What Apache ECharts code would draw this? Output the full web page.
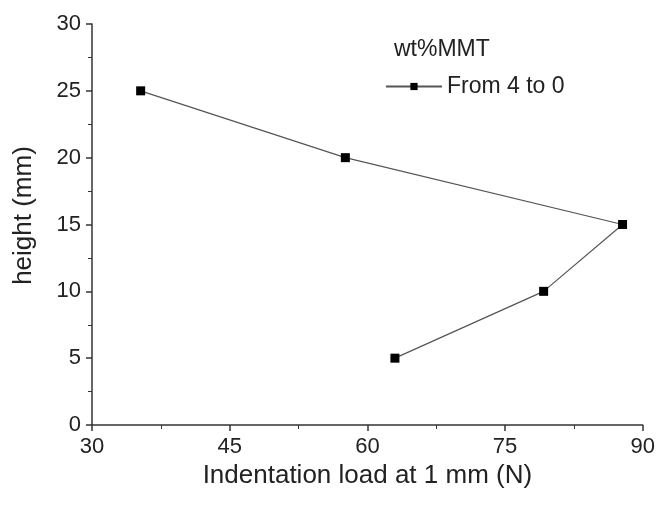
<!DOCTYPE html>
<html>
<head>
<meta charset="utf-8">
<script src="https://cdn.jsdelivr.net/npm/echarts@6/dist/echarts.min.js"></script>
<style>html,body{margin:0;padding:0;background:#fff}#c{width:658px;height:506px}</style>
</head>
<body>
<div id="c"></div>
<script>
var loads = [35.3, 57.6, 87.8, 79.2, 63.0];
var heights = [25, 20, 15, 10, 5];
var seriesName = 'From 4 to 0';
var legendTitle = 'wt%MMT';
var xName = 'Indentation load at 1 mm (N)';
var yName = 'height (mm)';

var chart = echarts.init(document.getElementById('c'));
var font = 'Liberation Sans, Arial, sans-serif';
var axisCommon = {
  axisLine: {show: true, onZero: false, lineStyle: {color: '#333', width: 1.5}},
  axisTick: {show: true, inside: false, length: 6, lineStyle: {color: '#333', width: 1.5}},
  minorTick: {show: true, splitNumber: 2, length: 4, lineStyle: {color: '#333', width: 1}},
  splitLine: {show: false},
  axisLabel: {color: '#222', fontSize: 22, fontFamily: font},
  nameTextStyle: {color: '#222', fontSize: 26, fontFamily: font}
};
chart.setOption({
  animation: false,
  backgroundColor: '#fff',
  title: {
    text: legendTitle, left: 394, top: 38, padding: 0,
    textStyle: {color: '#222', fontSize: 23, fontWeight: 'normal', fontFamily: font}
  },
  legend: {
    left: 385, top: 75, padding: 0, itemWidth: 56, itemHeight: 9, itemGap: 6,
    textStyle: {color: '#222', fontSize: 23, fontFamily: font},
    data: [seriesName]
  },
  grid: {left: 92, right: 14, top: 24, bottom: 81},
  xAxis: Object.assign({}, axisCommon, {
    type: 'value', min: 30, max: 90, interval: 15,
    name: xName, nameLocation: 'middle', nameGap: 28,
    axisLabel: Object.assign({}, axisCommon.axisLabel, {margin: 11})
  }),
  yAxis: Object.assign({}, axisCommon, {
    type: 'value', min: 0, max: 30, interval: 5,
    name: yName, nameLocation: 'middle', nameGap: 55,
    nameTextStyle: Object.assign({}, axisCommon.nameTextStyle, {padding: [0, 0, 0, 18]}),
    axisLabel: Object.assign({}, axisCommon.axisLabel, {margin: 11})
  }),
  series: [{
    name: seriesName,
    type: 'line',
    data: loads.map(function (v, i) { return [v, heights[i]]; }),
    symbol: 'rect', symbolSize: 9,
    itemStyle: {color: '#000'},
    lineStyle: {color: '#555', width: 1.2},
    smooth: false
  }]
});
</script>
</body>
</html>
